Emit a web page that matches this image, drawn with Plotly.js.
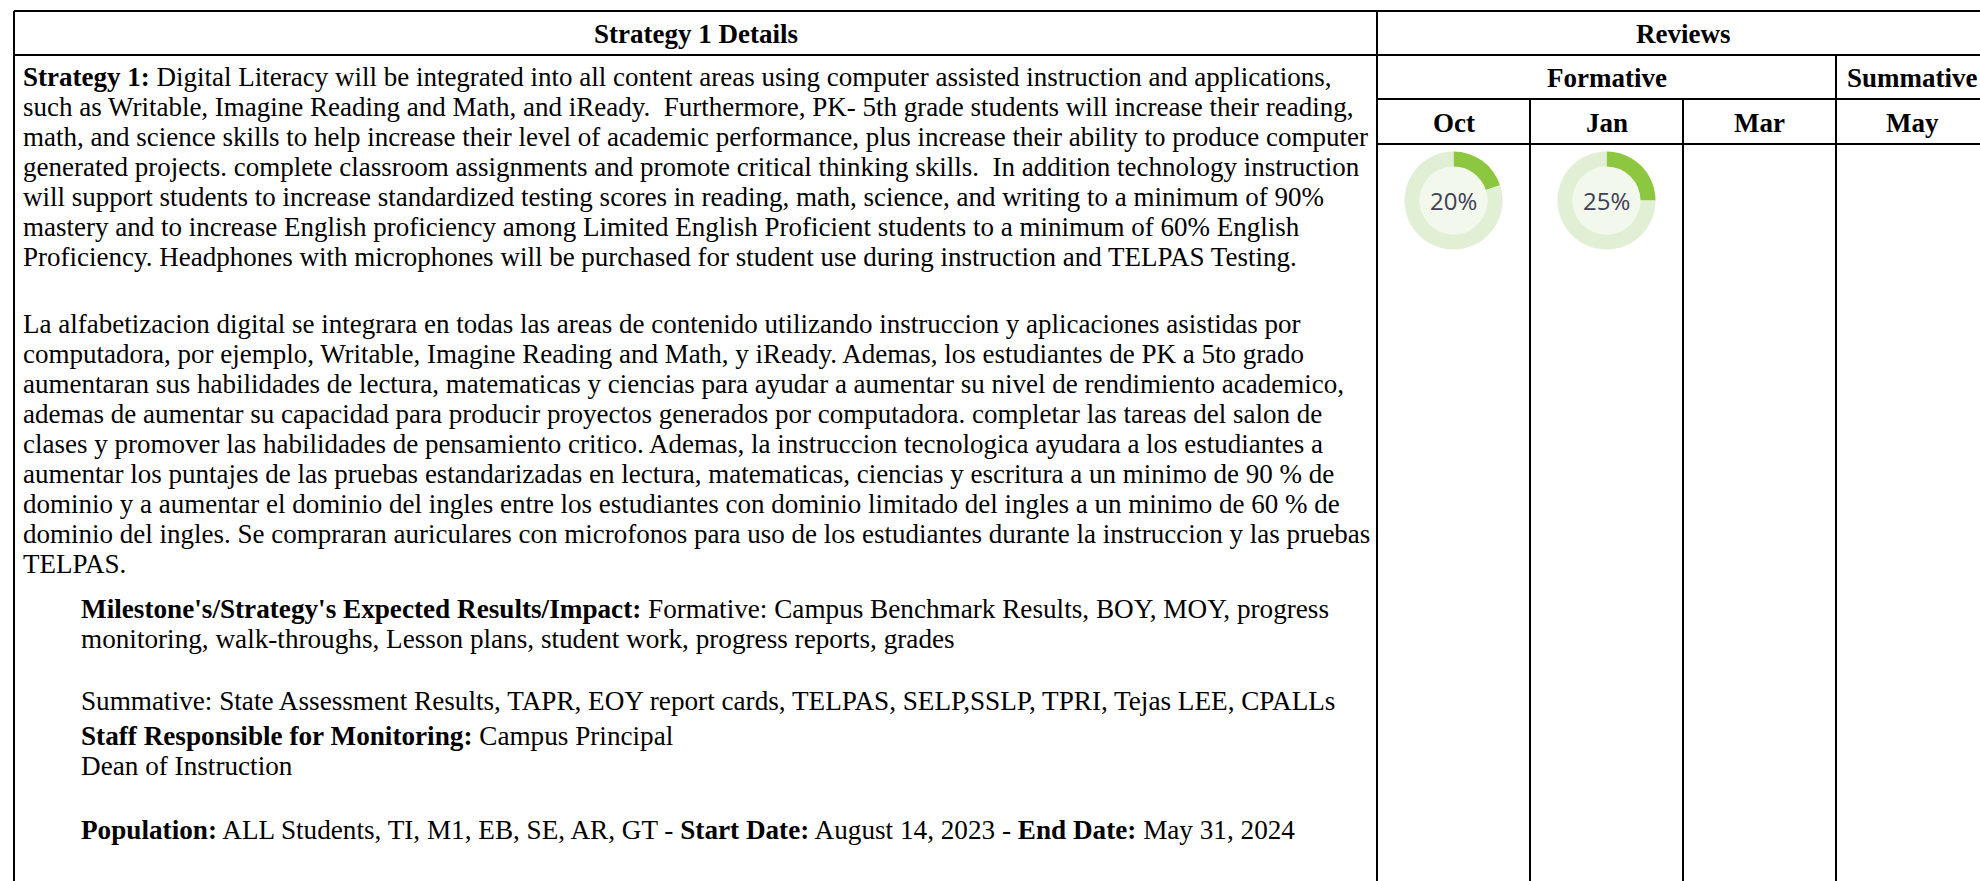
<!DOCTYPE html>
<html>
<head>
<meta charset="utf-8">
<script src="https://cdn.plot.ly/plotly-3.0.1.min.js"></script>
<style>
html,body{margin:0;padding:0;background:#fff;overflow:hidden;}
#chart{width:1980px;height:881px;}
</style>
</head>
<body>
<div id="chart"></div>
<script>
// ---------- DATA ----------
const headerLeft = "Strategy 1 Details";
const headerRight = "Reviews";
const reviewGroups = ["Formative", "Summative"];
const reviewMonths = ["Oct", "Jan", "Mar", "May"];
const monthGroup = ["Formative", "Formative", "Formative", "Summative"];
const progressMonths = ["Oct", "Jan"];
const progressValues = [20, 25];

const englishLines = [
  "<b>Strategy 1:</b> Digital Literacy will be integrated into all content areas using computer assisted instruction and applications,",
  "such as Writable, Imagine Reading and Math, and iReady.\u00a0 Furthermore, PK- 5th grade students will increase their reading,",
  "math, and science skills to help increase their level of academic performance, plus increase their ability to produce computer",
  "generated projects. complete classroom assignments and promote critical thinking skills.\u00a0 In addition technology instruction",
  "will support students to increase standardized testing scores in reading, math, science, and writing to a minimum of 90%",
  "mastery and to increase English proficiency among Limited English Proficient students to a minimum of 60% English",
  "Proficiency. Headphones with microphones will be purchased for student use during instruction and TELPAS Testing."
];
const spanishLines = [
  "La alfabetizacion digital se integrara en todas las areas de contenido utilizando instruccion y aplicaciones asistidas por",
  "computadora, por ejemplo, Writable, Imagine Reading and Math, y iReady. Ademas, los estudiantes de PK a 5to grado",
  "aumentaran sus habilidades de lectura, matematicas y ciencias para ayudar a aumentar su nivel de rendimiento academico,",
  "ademas de aumentar su capacidad para producir proyectos generados por computadora. completar las tareas del salon de",
  "clases y promover las habilidades de pensamiento critico. Ademas, la instruccion tecnologica ayudara a los estudiantes a",
  "aumentar los puntajes de las pruebas estandarizadas en lectura, matematicas, ciencias y escritura a un minimo de 90 % de",
  "dominio y a aumentar el dominio del ingles entre los estudiantes con dominio limitado del ingles a un minimo de 60 % de",
  "dominio del ingles. Se compraran auriculares con microfonos para uso de los estudiantes durante la instruccion y las pruebas",
  "TELPAS."
];
const milestoneLines = [
  "<b>Milestone's/Strategy's Expected Results/Impact:</b> Formative: Campus Benchmark Results, BOY, MOY, progress",
  "monitoring, walk-throughs, Lesson plans, student work, progress reports, grades"
];
const summativeLines = [
  "Summative: State Assessment Results, TAPR, EOY report cards, TELPAS, SELP,SSLP, TPRI, Tejas LEE, CPALLs"
];
const staffLines = [
  "<b>Staff Responsible for Monitoring:</b> Campus Principal",
  "Dean of Instruction"
];
const populationLines = [
  "<b>Population:</b> ALL Students, TI, M1, EB, SE, AR, GT - <b>Start Date:</b> August 14, 2023 - <b>End Date:</b> May 31, 2024"
];

// ---------- LAYOUT (pixels) ----------
const W = 1980, H = 881;
const FONT = "Liberation Serif, Times New Roman, serif";
const FS = 27;
const FS2 = 27.2;
const LH = 30;
const left = 14, divX = 1377, right = 1989;
const colEdges = [1377, 1530, 1683, 1836, 1989];
const rowTop = 11, rowHead = 55, rowGroup = 99, rowMonth = 144;
const textX = 21, indentX = 79;
const donutCY = 200.5, donutR = 49, holeR = 34;
const green = "#8dc63f", ringLight = "#e1efd5", holeFill = "#f2f8ec";

const shapes = [];
function line(x0,y0,x1,y1){
  shapes.push({type:"line",xref:"x",yref:"y",x0:x0,y0:y0,x1:x1,y1:y1,line:{color:"#000",width:2},layer:"above"});
}
line(left,rowTop,right,rowTop);
line(left,rowHead,right,rowHead);
line(left,rowTop,left,H+5);
line(divX,rowTop,divX,H+5);
line(divX,rowGroup,right,rowGroup);
line(divX,rowMonth,right,rowMonth);
for (let i=1;i<reviewMonths.length;i++){
  const isGroupEdge = monthGroup[i] !== monthGroup[i-1];
  line(colEdges[i], isGroupEdge ? rowHead : rowGroup, colEdges[i], H+5);
}

const annotations = [];
function txt(x,base,t,opts,fs){
  fs = fs || FS;
  annotations.push(Object.assign({xref:"x",yref:"y",x:x,y:base - 0.3375*fs,text:t,showarrow:false,
    xanchor:"left",yanchor:"middle",font:{family:FONT,size:fs,color:"#000"}},opts||{}));
}
// headers (baselines)
txt((left+divX)/2, 43, "<b>"+headerLeft+"</b>", {xanchor:"center"});
txt((divX+right)/2, 43, "<b>"+headerRight+"</b>", {xanchor:"center"});
reviewGroups.forEach(g=>{
  const idx = monthGroup.map((m,i)=>m===g?i:-1).filter(i=>i>=0);
  const x0 = colEdges[idx[0]], x1 = colEdges[idx[idx.length-1]+1];
  txt((x0+x1)/2, 87, "<b>"+g+"</b>", {xanchor:"center"});
});
reviewMonths.forEach((m,i)=>{
  txt((colEdges[i]+colEdges[i+1])/2, 132, "<b>"+m+"</b>", {xanchor:"center"});
});

function block(lines, x, firstBase, fs){
  lines.forEach((l,i)=>txt(x, firstBase + i*LH, l, null, fs));
}
block(englishLines, textX, 86);
block(spanishLines, textX, 333);
block(milestoneLines, indentX, 618, FS2);
block(summativeLines, indentX, 710, FS2);
block(staffLines, indentX, 745, FS2);
block(populationLines, indentX, 839, FS2);

const traces = [];
progressMonths.forEach((m,k)=>{
  const i = reviewMonths.indexOf(m);
  const cx = (colEdges[i]+colEdges[i+1])/2;
  shapes.push({type:"circle",xref:"x",yref:"y",x0:cx-holeR,x1:cx+holeR,y0:donutCY-holeR,y1:donutCY+holeR,
    fillcolor:holeFill,line:{width:0},layer:"below"});
  traces.push({
    type:"pie",
    values:[progressValues[k], 100-progressValues[k]],
    labels:[m+" done", m+" remaining"],
    sort:false, direction:"clockwise", rotation:0,
    hole: holeR/donutR,
    textinfo:"none", hoverinfo:"skip", showlegend:false,
    marker:{colors:[green, ringLight], line:{width:0}},
    domain:{x:[(cx-donutR)/W,(cx+donutR)/W], y:[1-(donutCY+donutR)/H, 1-(donutCY-donutR)/H]}
  });
  annotations.push({xref:"x",yref:"y",x:cx,y:donutCY,text:progressValues[k]+"%",showarrow:false,
    xanchor:"center",yanchor:"middle",font:{family:"Open Sans, sans-serif",size:24,color:"#404055"}});
});

const layout = {
  width:W, height:H,
  margin:{l:0,r:0,t:0,b:0,pad:0},
  paper_bgcolor:"#fff", plot_bgcolor:"#fff",
  xaxis:{range:[0,W],visible:false,fixedrange:true},
  yaxis:{range:[H,0],visible:false,fixedrange:true},
  shapes:shapes, annotations:annotations, showlegend:false
};
Plotly.newPlot("chart", traces, layout, {staticPlot:true, displayModeBar:false});
</script>
</body>
</html>
